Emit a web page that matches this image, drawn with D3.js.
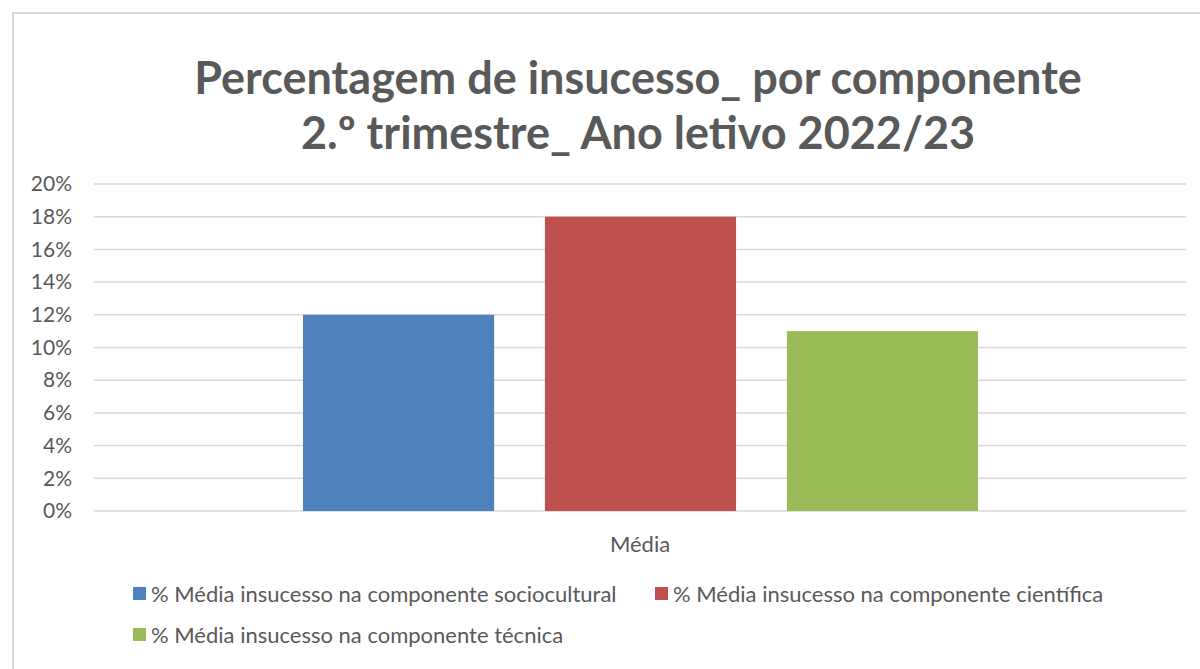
<!DOCTYPE html>
<html>
<head>
<meta charset="utf-8">
<script src="https://cdn.jsdelivr.net/npm/d3@7"></script>
<style>
  body { margin: 0; background: #fff; }
  svg { display: block; font-family: Lato, "Open Sans", sans-serif; }
</style>
</head>
<body>
<svg id="chart" width="1200" height="669"></svg>
<script>
const titleLines = ["Percentagem de insucesso_ por componente", "2.º trimestre_ Ano letivo 2022/23"];
const category = ["Média"];
const seriesNames = [
    "% Média insucesso na componente sociocultural",
    "% Média insucesso na componente científica",
    "% Média insucesso na componente técnica"
];
const seriesValues = [0.12, 0.18, 0.11];
const seriesColors = ["#4f81bd", "#c0504d", "#9bbb59"];
const yTicks = [0, 0.02, 0.04, 0.06, 0.08, 0.10, 0.12, 0.14, 0.16, 0.18, 0.20];

const svg = d3.select("#chart");
const textColor = "#595959";

// moldura do gráfico
svg.append("rect")
    .attr("x", 13).attr("y", 13)
    .attr("width", 1200).attr("height", 700)
    .attr("fill", "#fff")
    .attr("stroke", "#d9d9d9")
    .attr("stroke-width", 2);

// título
svg.append("g").selectAll("text")
    .data(titleLines)
    .enter().append("text")
    .attr("x", 638)
    .attr("y", (d, i) => 94 + i * 55)
    .attr("text-anchor", "middle")
    .attr("fill", textColor)
    .style("font-size", "45px")
    .style("font-weight", "bold")
    .text(d => d);

const plot = { left: 94, right: 1186, top: 184, bottom: 511 };

const y = d3.scaleLinear().domain([0, 0.20]).range([plot.bottom, plot.top]);
const x0 = d3.scaleBand().domain(category).range([plot.left, plot.right]);
const x1 = d3.scaleBand().domain(seriesNames)
    .range([303, 978])
    .paddingInner(0.21);

// linhas de grelha
svg.append("g").selectAll("line")
    .data(yTicks)
    .enter().append("line")
    .attr("x1", plot.left).attr("x2", plot.right)
    .attr("y1", d => y(d)).attr("y2", d => y(d))
    .attr("stroke", "#d9d9d9")
    .attr("stroke-width", 1.5);

// eixo y
const yAxis = svg.append("g")
    .attr("transform", `translate(${plot.left - 22},0)`)
    .call(d3.axisLeft(y).tickValues(yTicks).tickFormat(d3.format(".0%")).tickSize(0).tickPadding(0));
yAxis.select(".domain").remove();
yAxis.selectAll("text")
    .attr("fill", textColor)
    .style("font-size", "21px")
    .style("font-family", "Lato, sans-serif");

// barras
svg.append("g").selectAll("rect")
    .data(seriesValues)
    .enter().append("rect")
    .attr("x", (d, i) => x1(seriesNames[i]))
    .attr("width", x1.bandwidth())
    .attr("y", d => y(d))
    .attr("height", d => y(0) - y(d))
    .attr("fill", (d, i) => seriesColors[i]);

// eixo x
svg.append("g").selectAll("text")
    .data(category)
    .enter().append("text")
    .attr("x", d => x0(d) + x0.bandwidth() / 2 - 0)
    .attr("y", 552)
    .attr("text-anchor", "middle")
    .attr("fill", textColor)
    .style("font-size", "22px")
    .text(d => d);

// legenda
const legendPos = [[133, 594], [655, 594], [133, 635]];
const legend = svg.append("g").selectAll("g")
    .data(seriesNames)
    .enter().append("g")
    .attr("transform", (d, i) => `translate(${legendPos[i][0]},${legendPos[i][1]})`);
legend.append("rect")
    .attr("x", 0).attr("y", -7)
    .attr("width", 13).attr("height", 13)
    .attr("fill", (d, i) => seriesColors[i]);
legend.append("text")
    .attr("x", 18).attr("y", 8)
    .attr("fill", textColor)
    .style("font-size", "22px")
    .text(d => d);
</script>
</body>
</html>
